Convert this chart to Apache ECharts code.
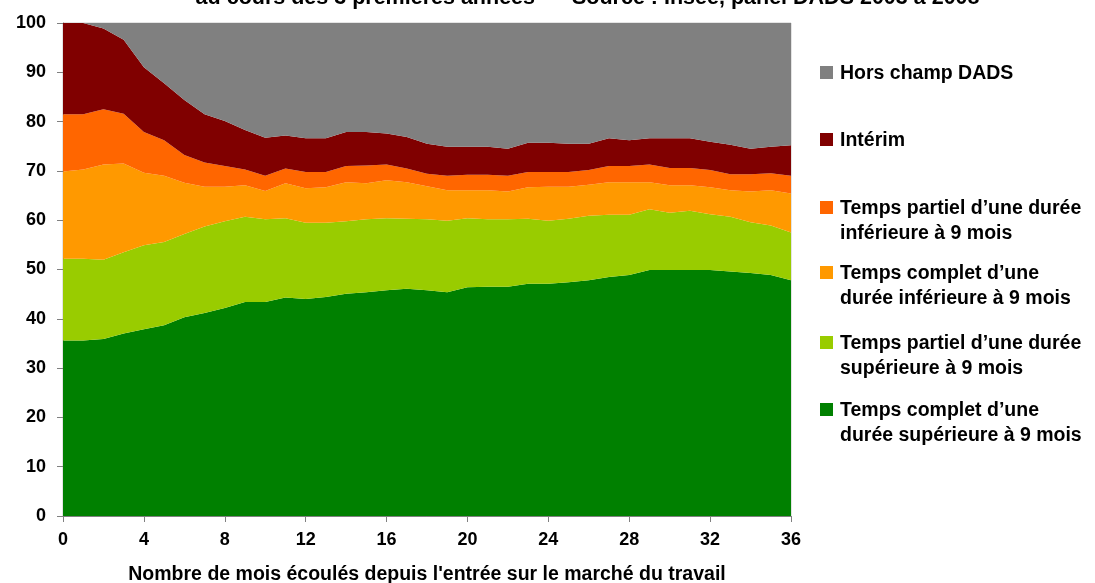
<!DOCTYPE html>
<html>
<head>
<meta charset="utf-8">
<script src="https://cdn.jsdelivr.net/npm/echarts@6/dist/echarts.min.js"></script>
<style>
  html, body { margin: 0; padding: 0; background: #fff; }
  #chart { width: 1095px; height: 583px; }
</style>
</head>
<body>
<div id="chart"></div>
<script>
// Months since entering the labour market
const months = Array.from({ length: 37 }, (_, i) => String(i));

// Share of each situation (%), per month, stacked from bottom to top
const completSup = [35.6,35.6,35.9,37.0,37.9,38.7,40.3,41.2,42.2,43.4,43.4,44.3,44.0,44.4,45.1,45.4,45.8,46.1,45.8,45.4,46.4,46.5,46.5,47.1,47.1,47.4,47.8,48.5,48.9,49.9,49.9,49.9,49.9,49.6,49.3,48.9,47.8];
const partielSup = [16.6,16.6,16.1,16.5,17.0,16.9,16.9,17.5,17.6,17.3,16.8,16.1,15.5,15.1,14.7,14.8,14.6,14.2,14.4,14.5,14.0,13.7,13.7,13.2,12.8,12.9,13.1,12.6,12.2,12.3,11.6,12.0,11.3,11.1,10.3,10.0,9.7];
const completInf = [17.7,18.1,19.3,18.0,14.7,13.4,10.4,8.1,7.0,6.4,5.7,7.1,7.0,7.2,7.9,7.3,7.7,7.4,6.7,6.2,5.7,5.9,5.6,6.4,6.9,6.5,6.3,6.6,6.6,5.5,5.6,5.2,5.5,5.4,6.2,7.2,7.9];
const partielInf = [11.6,11.2,11.2,10.1,8.3,7.2,5.6,4.9,4.2,3.2,3.1,3.0,3.3,3.1,3.3,3.6,3.2,2.8,2.5,2.9,3.1,3.1,3.2,3.1,3.0,3.0,3.0,3.3,3.3,3.6,3.5,3.5,3.5,3.2,3.5,3.4,3.6];
const interim = [18.5,18.5,16.4,15.0,13.1,11.6,11.2,9.8,9.1,8.0,7.7,6.7,6.8,6.8,6.9,6.8,6.3,6.4,6.1,5.9,5.7,5.7,5.5,5.9,5.9,5.7,5.3,5.6,5.2,5.3,6.0,6.0,5.7,6.0,5.2,5.4,6.2];
const horsChamp = [0,0,1.1,3.4,9.0,12.2,15.6,18.5,19.9,21.7,23.3,22.8,23.4,23.4,22.1,22.1,22.4,23.1,24.5,25.1,25.1,25.1,25.5,24.3,24.3,24.5,24.5,23.4,23.8,23.4,23.4,23.4,24.1,24.7,25.5,25.1,24.8];

const seriesNames = [
  'Temps complet d\u2019une durée supérieure à 9 mois',
  'Temps partiel d\u2019une durée supérieure à 9 mois',
  'Temps complet d\u2019une durée inférieure à 9 mois',
  'Temps partiel d\u2019une durée inférieure à 9 mois',
  'Intérim',
  'Hors champ DADS'
];
const seriesData = [completSup, partielSup, completInf, partielInf, interim, horsChamp];
const seriesColors = ['#008000', '#99CC00', '#FF9900', '#FF6600', '#800000', '#808080'];

// Legend text, top to bottom, with its line breaks
const legendLines = [
  ['Hors champ DADS'],
  ['Intérim'],
  ['Temps partiel d\u2019une durée', 'inférieure à 9 mois'],
  ['Temps complet d\u2019une', 'durée inférieure à 9 mois'],
  ['Temps partiel d\u2019une durée', 'supérieure à 9 mois'],
  ['Temps complet d\u2019une', 'durée supérieure à 9 mois']
];
const legendTops = [61, 128, 196, 261, 331, 398];

const titleText = 'au cours des 3 premières années';
const sourceText = 'Source : Insee, panel DADS 2003 à 2008';

const FONT = '"Liberation Sans", Arial, sans-serif';

const chart = echarts.init(document.getElementById('chart'), null, { renderer: 'canvas' });

const legendGraphics = [];
legendLines.forEach((lines, i) => {
  const color = seriesColors[seriesColors.length - 1 - i];
  legendGraphics.push({
    type: 'rect',
    left: 820, top: legendTops[i] + 5,
    shape: { width: 13, height: 13 },
    style: { fill: color }
  });
  legendGraphics.push({
    type: 'text',
    left: 840, top: legendTops[i],
    style: {
      text: lines.join('\n'),
      font: 'bold 19.5px ' + FONT,
      lineHeight: 25,
      fill: '#000'
    }
  });
});

chart.setOption({
  animation: false,
  backgroundColor: '#ffffff',
  grid: {
    left: 63, right: 304, top: 23, bottom: 67,
    outerBoundsMode: 'none',
    show: true, borderColor: '#c8c8c8', borderWidth: 1,
    containLabel: false
  },
  xAxis: {
    type: 'category',
    data: months,
    boundaryGap: false,
    name: 'Nombre de mois écoulés depuis l\'entrée sur le marché du travail',
    nameLocation: 'middle',
    nameGap: 49,
    nameTextStyle: { fontFamily: FONT, fontWeight: 'bold', fontSize: 19.5, color: '#000' },
    axisLine: { lineStyle: { color: '#808080', width: 1 } },
    axisTick: { interval: 3, length: 6, lineStyle: { color: '#808080' } },
    axisLabel: { interval: 3, margin: 15, fontFamily: FONT, fontWeight: 'bold', fontSize: 18, color: '#000' },
    splitLine: { show: false }
  },
  yAxis: {
    type: 'value',
    min: 0, max: 100, interval: 10,
    axisLine: { show: true, lineStyle: { color: '#808080', width: 1 } },
    axisTick: { show: true, length: 6, lineStyle: { color: '#808080' } },
    axisLabel: { margin: 17, fontFamily: FONT, fontWeight: 'bold', fontSize: 18, color: '#000' },
    splitLine: { show: false }
  },
  series: seriesNames.map((name, i) => ({
    name,
    type: 'line',
    stack: 'total',
    data: seriesData[i],
    symbol: 'none',
    lineStyle: { width: 0 },
    areaStyle: { color: seriesColors[i], opacity: 1 },
    itemStyle: { color: seriesColors[i] },
    z: 2
  })),
  graphic: [
    {
      type: 'text',
      right: 560, top: -13,
      style: { text: titleText, font: 'bold 21.5px ' + FONT, fill: '#000' }
    },
    {
      type: 'text',
      left: 572, top: -13,
      style: { text: sourceText, font: 'bold 21.5px ' + FONT, fill: '#000' }
    }
  ].concat(legendGraphics)
});
</script>
</body>
</html>
